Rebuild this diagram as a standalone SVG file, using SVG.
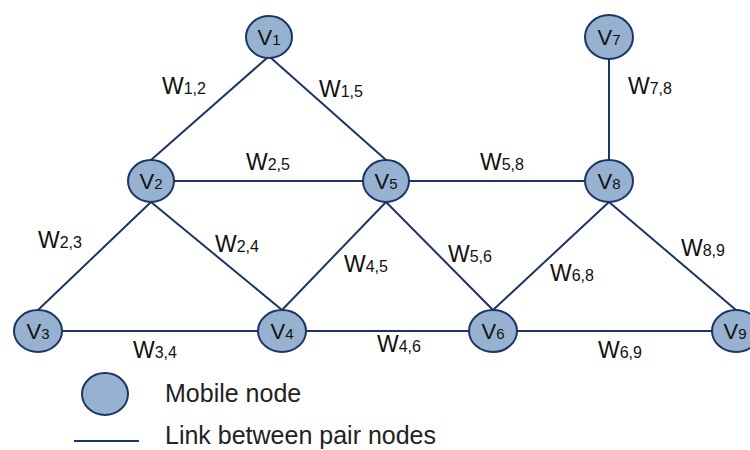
<svg xmlns="http://www.w3.org/2000/svg" width="750" height="450" viewBox="0 0 750 450">
<style>
.node{fill:#97B1D1;stroke:#1B3566;stroke-width:2}
.edge{stroke:#1B3566;stroke-width:2;fill:none}
.nl{font-family:"Liberation Sans",Arial,sans-serif;font-size:22px;fill:#111;text-anchor:middle}
.ns{font-size:15px}
.wl{font-family:"Liberation Sans",Arial,sans-serif;font-size:23px;fill:#111}
.ws{font-size:16px}
.lg{font-family:"Liberation Sans",Arial,sans-serif;font-size:25px;fill:#222}
</style>
<rect width="750" height="450" fill="#fff"/>
<g id="connectors">
<line class="edge" x1="267" y1="58" x2="151" y2="160"/>
<line class="edge" x1="271" y1="58" x2="386" y2="160"/>
<line class="edge" x1="174" y1="181" x2="363" y2="181"/>
<line class="edge" x1="409" y1="181" x2="585" y2="181"/>
<line class="edge" x1="609" y1="59" x2="609" y2="160"/>
<line class="edge" x1="151" y1="202" x2="38" y2="310"/>
<line class="edge" x1="151" y1="202" x2="282" y2="310"/>
<line class="edge" x1="386" y1="202" x2="282" y2="310"/>
<line class="edge" x1="386" y1="202" x2="493" y2="310"/>
<line class="edge" x1="609" y1="202" x2="493" y2="310"/>
<line class="edge" x1="609" y1="202" x2="736" y2="310"/>
<line class="edge" x1="62" y1="331" x2="258" y2="331"/>
<line class="edge" x1="306" y1="331" x2="469" y2="331"/>
<line class="edge" x1="517" y1="331" x2="712" y2="331"/>
</g>
<g id="edge-labels">
<text class="wl" x="162" y="94">W<tspan class="ws">1,2</tspan></text>
<text class="wl" x="319" y="97">W<tspan class="ws">1,5</tspan></text>
<text class="wl" x="246" y="170">W<tspan class="ws">2,5</tspan></text>
<text class="wl" x="480" y="170">W<tspan class="ws">5,8</tspan></text>
<text class="wl" x="628" y="94">W<tspan class="ws">7,8</tspan></text>
<text class="wl" x="38" y="248">W<tspan class="ws">2,3</tspan></text>
<text class="wl" x="215" y="252">W<tspan class="ws">2,4</tspan></text>
<text class="wl" x="344" y="272">W<tspan class="ws">4,5</tspan></text>
<text class="wl" x="448" y="262">W<tspan class="ws">5,6</tspan></text>
<text class="wl" x="550" y="281">W<tspan class="ws">6,8</tspan></text>
<text class="wl" x="681" y="256">W<tspan class="ws">8,9</tspan></text>
<text class="wl" x="133" y="358">W<tspan class="ws">3,4</tspan></text>
<text class="wl" x="377" y="352">W<tspan class="ws">4,6</tspan></text>
<text class="wl" x="598" y="358">W<tspan class="ws">6,9</tspan></text>
</g>
<g id="V1"><ellipse class="node" cx="269" cy="37" rx="23" ry="21"/><text class="nl" x="269" y="45">V<tspan class="ns">1</tspan></text></g>
<g id="V2"><ellipse class="node" cx="151" cy="181" rx="23" ry="21"/><text class="nl" x="151" y="189">V<tspan class="ns">2</tspan></text></g>
<g id="V3"><ellipse class="node" cx="38" cy="331" rx="24" ry="21"/><text class="nl" x="38" y="339">V<tspan class="ns">3</tspan></text></g>
<g id="V4"><ellipse class="node" cx="282" cy="331" rx="24" ry="21"/><text class="nl" x="282" y="339">V<tspan class="ns">4</tspan></text></g>
<g id="V5"><ellipse class="node" cx="386" cy="181" rx="23" ry="21"/><text class="nl" x="386" y="189">V<tspan class="ns">5</tspan></text></g>
<g id="V6"><ellipse class="node" cx="493" cy="331" rx="24" ry="21"/><text class="nl" x="493" y="339">V<tspan class="ns">6</tspan></text></g>
<g id="V7"><ellipse class="node" cx="609" cy="37" rx="24" ry="22"/><text class="nl" x="609" y="45">V<tspan class="ns">7</tspan></text></g>
<g id="V8"><ellipse class="node" cx="609" cy="181" rx="24" ry="21"/><text class="nl" x="609" y="189">V<tspan class="ns">8</tspan></text></g>
<g id="V9"><ellipse class="node" cx="736" cy="331" rx="24" ry="21"/><text class="nl" x="735" y="339">V<tspan class="ns">9</tspan></text></g>
<g id="legend">
<ellipse class="node" cx="105" cy="394" rx="23" ry="21"/>
<text class="lg" x="165" y="402">Mobile node</text>
<line class="edge" x1="74" y1="441" x2="139" y2="441"/>
<text class="lg" x="165" y="444">Link between pair nodes</text>
</g>
</svg>
